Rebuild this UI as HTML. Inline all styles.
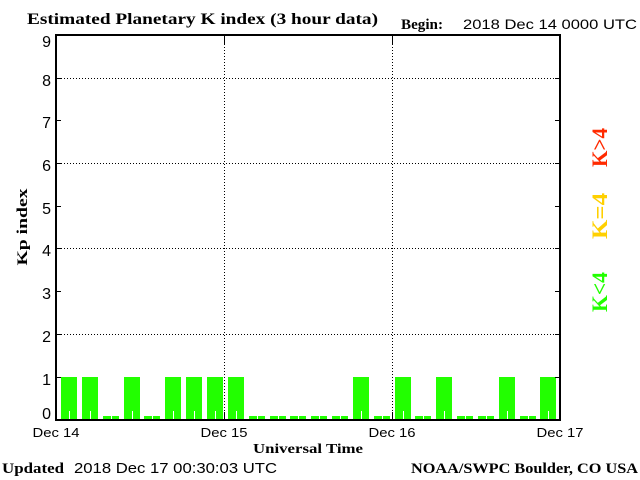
<!DOCTYPE html>
<html>
<head>
<meta charset="utf-8">
<style>
html,body{margin:0;padding:0;background:#fff;}
svg{display:block;}
.serif{font-family:"Liberation Serif",serif;font-weight:bold;}
.sans{font-family:"Liberation Sans",sans-serif;}
</style>
</head>
<body>
<svg width="640" height="480" viewBox="0 0 640 480" xmlns="http://www.w3.org/2000/svg">
<rect x="0" y="0" width="640" height="480" fill="#fff"/>

<!-- Title -->
<text class="serif" x="27" y="24" font-size="16" textLength="351" lengthAdjust="spacingAndGlyphs">Estimated Planetary K index (3 hour data)</text>
<text class="serif" x="401" y="29" font-size="15" textLength="42" lengthAdjust="spacingAndGlyphs">Begin:</text>
<text class="sans" x="463" y="29" font-size="14" textLength="174" lengthAdjust="spacingAndGlyphs">2018 Dec 14 0000 UTC</text>

<!-- Bars -->
<g fill="#22ff00" shape-rendering="crispEdges">
<rect x="61" y="377" width="16" height="42"/>
<rect x="82" y="377" width="16" height="42"/>
<rect x="103" y="416" width="16" height="3"/>
<rect x="124" y="377" width="16" height="42"/>
<rect x="144" y="416" width="16" height="3"/>
<rect x="165" y="377" width="16" height="42"/>
<rect x="186" y="377" width="16" height="42"/>
<rect x="207" y="377" width="16" height="42"/>
<rect x="228" y="377" width="16" height="42"/>
<rect x="249" y="416" width="16" height="3"/>
<rect x="270" y="416" width="16" height="3"/>
<rect x="290" y="416" width="16" height="3"/>
<rect x="311" y="416" width="16" height="3"/>
<rect x="332" y="416" width="16" height="3"/>
<rect x="353" y="377" width="16" height="42"/>
<rect x="374" y="416" width="16" height="3"/>
<rect x="395" y="377" width="16" height="42"/>
<rect x="415" y="416" width="16" height="3"/>
<rect x="436" y="377" width="16" height="42"/>
<rect x="457" y="416" width="16" height="3"/>
<rect x="478" y="416" width="16" height="3"/>
<rect x="499" y="377" width="16" height="42"/>
<rect x="520" y="416" width="16" height="3"/>
<rect x="540" y="377" width="16" height="42"/>
</g>
<!-- white center marks -->
<g fill="#fff" shape-rendering="crispEdges">
<rect x="69" y="411" width="1" height="8"/>
<rect x="90" y="411" width="1" height="8"/>
<rect x="111" y="411" width="1" height="8"/>
<rect x="132" y="411" width="1" height="8"/>
<rect x="152" y="411" width="1" height="8"/>
<rect x="173" y="411" width="1" height="8"/>
<rect x="194" y="411" width="1" height="8"/>
<rect x="215" y="411" width="1" height="8"/>
<rect x="236" y="411" width="1" height="8"/>
<rect x="257" y="411" width="1" height="8"/>
<rect x="278" y="411" width="1" height="8"/>
<rect x="298" y="411" width="1" height="8"/>
<rect x="319" y="411" width="1" height="8"/>
<rect x="340" y="411" width="1" height="8"/>
<rect x="361" y="411" width="1" height="8"/>
<rect x="382" y="411" width="1" height="8"/>
<rect x="403" y="411" width="1" height="8"/>
<rect x="423" y="411" width="1" height="8"/>
<rect x="444" y="411" width="1" height="8"/>
<rect x="465" y="411" width="1" height="8"/>
<rect x="486" y="411" width="1" height="8"/>
<rect x="507" y="411" width="1" height="8"/>
<rect x="528" y="411" width="1" height="8"/>
<rect x="548" y="411" width="1" height="8"/>
</g>

<!-- Grid -->
<g stroke="#000" stroke-width="1" stroke-dasharray="1 2" shape-rendering="crispEdges" fill="none">
<line x1="58" y1="78.5" x2="559" y2="78.5"/>
<line x1="58" y1="163.5" x2="559" y2="163.5"/>
<line x1="58" y1="248.5" x2="559" y2="248.5"/>
<line x1="58" y1="334.5" x2="559" y2="334.5"/>
<line x1="224.5" y1="44" x2="224.5" y2="412"/>
<line x1="392.5" y1="44" x2="392.5" y2="412"/>
</g>

<!-- Axes box and ticks -->
<g fill="#000" shape-rendering="crispEdges">
<rect x="55" y="34" width="2" height="387"/>
<rect x="559" y="34" width="2" height="387"/>
<rect x="55" y="34" width="506" height="2"/>
<rect x="55" y="419" width="506" height="2"/>
<!-- left ticks -->
<rect x="57" y="377" width="4" height="1"/>
<rect x="57" y="334" width="4" height="1"/>
<rect x="57" y="291" width="4" height="1"/>
<rect x="57" y="248" width="4" height="1"/>
<rect x="57" y="206" width="4" height="1"/>
<rect x="57" y="163" width="4" height="1"/>
<rect x="57" y="120" width="4" height="1"/>
<rect x="57" y="78" width="4" height="1"/>
<!-- right ticks -->
<rect x="555" y="377" width="4" height="1"/>
<rect x="555" y="334" width="4" height="1"/>
<rect x="555" y="291" width="4" height="1"/>
<rect x="555" y="248" width="4" height="1"/>
<rect x="555" y="206" width="4" height="1"/>
<rect x="555" y="163" width="4" height="1"/>
<rect x="555" y="120" width="4" height="1"/>
<rect x="555" y="78" width="4" height="1"/>
<!-- day ticks -->
<rect x="224" y="36" width="1" height="8"/>
<rect x="224" y="412" width="1" height="7"/>
<rect x="392" y="36" width="1" height="8"/>
<rect x="392" y="412" width="1" height="7"/>
</g>

<!-- Y tick labels -->
<g class="sans" font-size="16" text-anchor="end">
<text x="51" y="47">9</text>
<text x="51" y="86">8</text>
<text x="51" y="128">7</text>
<text x="51" y="171">6</text>
<text x="51" y="214">5</text>
<text x="51" y="256">4</text>
<text x="51" y="299">3</text>
<text x="51" y="342">2</text>
<text x="51" y="385">1</text>
<text x="51" y="419">0</text>
</g>

<!-- Y axis title -->
<text class="serif" font-size="15" text-anchor="middle" transform="translate(27,227) rotate(-90)" textLength="77" lengthAdjust="spacingAndGlyphs">Kp index</text>

<!-- X tick labels -->
<g class="sans" font-size="13" text-anchor="middle">
<text x="56" y="437" textLength="47" lengthAdjust="spacingAndGlyphs">Dec 14</text>
<text x="224" y="437" textLength="47" lengthAdjust="spacingAndGlyphs">Dec 15</text>
<text x="392" y="437" textLength="47" lengthAdjust="spacingAndGlyphs">Dec 16</text>
<text x="560" y="437" textLength="47" lengthAdjust="spacingAndGlyphs">Dec 17</text>
</g>
<text class="serif" x="253" y="453" font-size="14" textLength="110" lengthAdjust="spacingAndGlyphs">Universal Time</text>

<!-- Footer -->
<text class="serif" x="2" y="473" font-size="15" textLength="62" lengthAdjust="spacingAndGlyphs">Updated</text>
<text class="sans" x="74" y="473" font-size="15" textLength="203" lengthAdjust="spacingAndGlyphs">2018 Dec 17 00:30:03 UTC</text>
<text class="serif" x="411" y="473" font-size="15" textLength="227" lengthAdjust="spacingAndGlyphs">NOAA/SWPC Boulder, CO USA</text>

<!-- Right legend -->
<text class="serif" font-size="22" fill="#ff2a00" text-anchor="middle" transform="translate(607,147.5) rotate(-90)" textLength="39" lengthAdjust="spacingAndGlyphs">K&gt;4</text>
<text class="serif" font-size="22" fill="#ffd000" text-anchor="middle" transform="translate(607,216) rotate(-90)" textLength="46" lengthAdjust="spacingAndGlyphs">K=4</text>
<text class="serif" font-size="22" fill="#22ff00" text-anchor="middle" transform="translate(607,292) rotate(-90)" textLength="40" lengthAdjust="spacingAndGlyphs">K&lt;4</text>
</svg>
</body>
</html>
